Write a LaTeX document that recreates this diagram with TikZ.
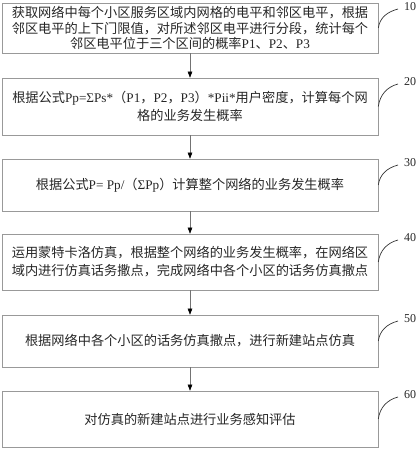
\documentclass[tikz,border=0pt]{standalone}
\usepackage{fontspec}
\setmainfont{Liberation Serif}
\newfontfamily\cjk{Noto Sans CJK SC}
\usetikzlibrary{arrows.meta}
\newcommand{\latn}[1]{{\rmfamily #1}}
\begin{document}
\begin{tikzpicture}[x=1pt,y=-1pt,
  box/.style={draw=black!40, line width=0.6pt, minimum width=376pt, inner sep=0pt,
    align=center, text=black!85},
  flow/.style={draw=black!55, line width=0.5pt, -{Triangle[length=6pt,width=4.5pt,color=black]}},
  hook/.style={draw=black!80, line width=0.7pt},
  tag/.style={anchor=west, font=\fontsize{12}{13}\selectfont, inner sep=0pt, text=black!85}]
\useasboundingbox (0,0) rectangle (417,450);
% boxes
\node[box, minimum height=50pt, font=\fontsize{13.2}{15.5}\selectfont\cjk] (b1) at (190,28)
  {获取网络中每个小区服务区域内网格的电平和邻区电平，根据\\
   邻区电平的上下门限值，对所述邻区电平进行分段，统计每个\\
   邻区电平位于三个区间的概率\latn{P1}、\latn{P2}、\latn{P3}};
\node[box, minimum height=57pt, font=\fontsize{13.2}{18.5}\selectfont\cjk] (b2) at (190,106.5)
  {根据公式\latn{Pp=ΣPs*}（\latn{P1}，\latn{P2}，\latn{P3}）\latn{*Pii*}用户密度，计算每个网\\
   格的业务发生概率};
\node[box, minimum height=52pt, font=\fontsize{13.2}{18}\selectfont\cjk] (b3) at (190,185)
  {根据公式\latn{P= Pp/}（\latn{ΣPp}）计算整个网络的业务发生概率};
\node[box, minimum height=56pt, font=\fontsize{13.2}{18}\selectfont\cjk] (b4) at (190,262)
  {运用蒙特卡洛仿真，根据整个网络的业务发生概率，在网络区\\
   域内进行仿真话务撒点，完成网络中各个小区的话务仿真撒点};
\node[box, minimum height=52pt, font=\fontsize{13.2}{18}\selectfont\cjk] (b5) at (190,341)
  {根据网络中各个小区的话务仿真撒点，进行新建站点仿真};
\node[box, minimum height=56pt, font=\fontsize{13.2}{18}\selectfont\cjk] (b6) at (190,419)
  {对仿真的新建站点进行业务感知评估};
% arrows
\draw[flow] (b1) -- (b2);
\draw[flow] (b2) -- (b3);
\draw[flow] (b3) -- (b4);
\draw[flow] (b4) -- (b5);
\draw[flow] (b5) -- (b6);
% labels and hooks
\foreach \b/\t/\n in {b1/3/10, b2/78/20, b3/159/30, b4/234/40, b5/315/50, b6/391/60}{
  \node[tag] (t\n) at (404,\t+4) {\n};
  \coordinate (h\n) at (398,\t+6);
  \draw[hook] (\b.east) to[out=82,in=195] (h\n);
}
\end{tikzpicture}
\end{document}
